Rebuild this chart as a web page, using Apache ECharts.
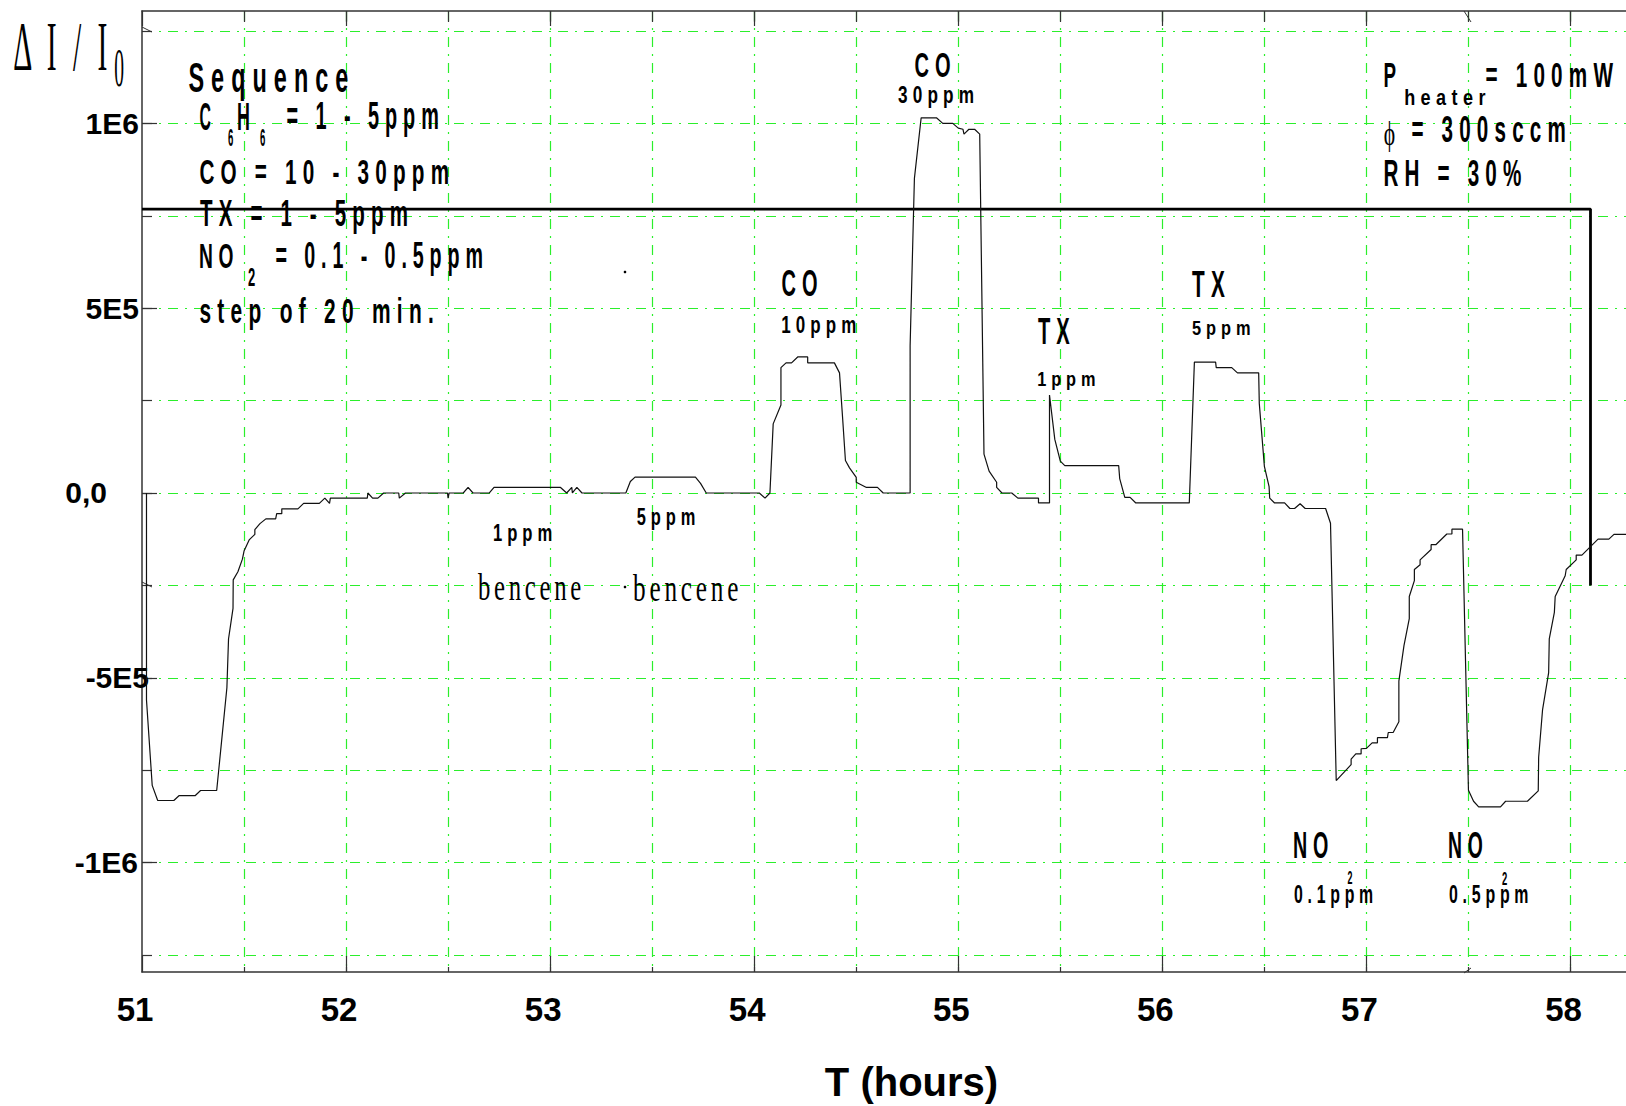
<!DOCTYPE html>
<html><head><meta charset="utf-8">
<script src="https://cdn.jsdelivr.net/npm/echarts@6/dist/echarts.min.js"></script>
<style>
html,body{margin:0;padding:0;background:#fff}
#c{width:1626px;height:1106px}
#c text[style*="NoteSans"]{letter-spacing:0.3em}
#c text[style*="NoteSerif"]{letter-spacing:0.15em}
</style>
</head><body><div id="c"></div>
<script>
// ---------------- data ----------------
const timeHours = [
 51.022,51.022,51.050,51.077,51.156,51.181,51.260,51.287,51.366,51.416,51.424,51.446,51.447,51.470,51.492,51.500,
 51.525,51.553,51.553,51.578,51.607,51.655,51.660,51.685,51.685,51.764,51.792,51.869,51.896,51.919,51.923,52.104,
 52.107,52.130,52.156,52.184,52.258,52.261,52.291,52.497,52.500,52.505,52.574,52.598,52.622,52.702,52.725,53.051,
 53.081,53.106,53.109,53.131,53.156,53.371,53.393,53.416,53.712,53.737,53.765,54.025,54.053,54.077,54.093,54.131,
 54.131,54.156,54.183,54.213,54.262,54.262,54.393,54.418,54.434,54.447,54.467,54.500,54.500,54.550,54.604,54.632,
 54.764,54.764,54.785,54.818,54.893,54.924,54.973,55.000,55.023,55.028,55.052,55.080,55.105,55.126,55.151,55.188,
 55.188,55.214,55.262,55.292,55.393,55.393,55.447,55.447,55.473,55.500,55.522,55.786,55.791,55.816,55.842,55.870,
 56.132,56.157,56.261,56.264,56.340,56.368,56.472,56.475,56.500,56.523,56.526,56.550,56.599,56.625,56.648,56.675,
 56.700,56.800,56.824,56.852,56.925,56.925,56.948,56.974,56.974,57.000,57.028,57.054,57.054,57.103,57.107,57.131,
 57.159,57.159,57.184,57.210,57.210,57.235,57.235,57.263,57.263,57.317,57.317,57.340,57.394,57.419,57.419,57.471,
 57.500,57.525,57.550,57.657,57.682,57.789,57.842,57.844,57.863,57.893,57.896,57.921,57.925,57.974,57.979,58.028,
 58.028,58.056,58.135,58.188,58.213,58.272
];
const deltaI = [
 0,-560000,-791000,-832000,-832000,-819000,-819000,-805000,-805000,-527000,-395000,-312000,-235000,-213000,-179000,-157000,
 -127000,-112000,-99000,-83000,-70000,-70000,-56000,-56000,-43000,-43000,-28000,-28000,-14000,-28000,-14000,-14000,
 0,-14000,-14000,0,0,-14000,0,0,-14000,0,0,15000,0,0,15000,15000,
 0,15000,0,15000,0,0,31000,43000,43000,26000,0,0,-14000,0,187000,238000,
 339000,352000,352000,368000,368000,352000,352000,325000,196000,88000,68000,42000,29000,15000,15000,0,
 0,398000,851000,1015000,1015000,1000000,1000000,987000,984000,971000,984000,984000,971000,105000,59000,29000,
 15000,0,0,-14000,-14000,-27000,-27000,265000,145000,86000,74000,74000,39000,-12000,-12000,-27000,
 -27000,354000,354000,339000,339000,325000,325000,242000,72000,17000,-14000,-27000,-27000,-42000,-42000,-29000,
 -42000,-42000,-82000,-778000,-735000,-720000,-706000,-706000,-692000,-691000,-676000,-676000,-662000,-662000,-648000,-648000,
 -619000,-509000,-413000,-340000,-280000,-237000,-207000,-194000,-181000,-153000,-140000,-140000,-111000,-111000,-98000,-98000,
 -804000,-834000,-849000,-849000,-834000,-834000,-806000,-715000,-587000,-486000,-395000,-323000,-280000,-224000,-207000,-181000,
 -168000,-168000,-125000,-125000,-112000,-112000
];
// heavy black trace drawn across the plot
const markerHours = [51, 58.098, 58.098];
const markerValues = [768000, 768000, -250000];

const xRange = [51, 58.272];
const yRange = [-1296000, 1304000];
const xMajorTicks = [51, 52, 53, 54, 55, 56, 57, 58];
const xHalfTicks = [51.5, 52, 52.5, 53, 53.5, 54, 54.5, 55, 55.5, 56, 56.5, 57, 57.5, 58];
const yTicks = [-1250000, -1000000, -750000, -500000, -250000, 0, 250000, 500000, 750000, 1000000, 1250000];
const yLabelValues = [-1000000, -500000, 0, 500000, 1000000];
const yLabelTexts = ['-1E6', '-5E5', '0,0', '5E5', '1E6'];

// ---------------- fonts ----------------
function fontOK(name) {
  const c = document.createElement('canvas').getContext('2d');
  const s = 'mmmmmmmmmmlli0123456789WQ';
  c.font = '40px monospace'; const a = c.measureText(s).width;
  c.font = '40px "' + name + '", monospace'; const b = c.measureText(s).width;
  c.font = '40px serif'; const a2 = c.measureText(s).width;
  c.font = '40px "' + name + '", serif'; const b2 = c.measureText(s).width;
  return a !== b || a2 !== b2;
}
const HAS_NARROW = fontOK('Liberation Sans Narrow');
const axFam = HAS_NARROW ? 'Liberation Sans Narrow' : 'Liberation Sans';
const xFs = 33;
const yFs = HAS_NARROW ? 32 : 30;
const SANS = '"NoteSans", "Liberation Sans", Arial, sans-serif';
const SERIF = '"NoteSerif", "Liberation Serif", "DejaVu Serif", serif';

// ---------------- text helper (fits ink box horizontally, letter-spaced) ----------------
const mctx = document.createElement('canvas').getContext('2d');
function T(text, x0, x1, yc, size, serif) {
  const fam = serif ? SERIF : SANS;
  const font = (serif ? '' : 'bold ') + size + 'px ' + fam;
  const sp = (serif ? 0.15 : 0.3) * size;
  mctx.font = font;
  const m = mctx.measureText(text);
  const n = Array.from(text).length;
  const inkL = -m.actualBoundingBoxLeft;
  const inkW = m.actualBoundingBoxRight + m.actualBoundingBoxLeft + (n - 1) * sp;
  const s = (x1 - x0) / inkW;
  return { type: 'text', x: x0 - inkL * s, y: yc, scaleX: s, silent: true, z: 100,
    style: { text: text, font: font, fill: '#000', textAlign: 'left', textVerticalAlign: 'middle' } };
}

const notes = [
  T('\u0394 I / I', 14, 108, 46.7, 70, true),
  T('0', 115, 123.3, 68.3, 54, true),
  T('Sequence', 189, 348, 77.5, 43),
  T('C', 200, 211, 116, 39), T('6', 228, 233, 138.5, 23), T('H', 238, 249, 116, 39), T('6', 260, 265, 138.5, 23),
  T('= 1 - 5ppm', 287, 438, 116, 39),
  T('CO = 10 - 30ppm', 200, 448, 171, 36),
  T('TX = 1 - 5ppm', 200, 407, 213.5, 37),
  T('NO', 200, 233, 256, 36), T('2', 248, 255, 276.5, 26), T('= 0.1 - 0.5ppm', 276, 482, 256, 36),
  T('step of 20 min.', 200, 433, 310.5, 35),
  T('P', 1384.5, 1395.5, 74.3, 36), T('heater', 1405, 1486, 97.9, 21.5), T('= 100mW', 1486, 1613, 74.5, 36),
  T('\u03D5', 1384.5, 1395, 134, 33, true), T('= 300sccm', 1412, 1564.6, 129, 37),
  T('RH = 30%', 1384.5, 1521, 172.7, 37),
  T('CO', 915, 950, 65, 36), T('30ppm', 898, 973, 94.7, 24),
  T('CO', 782, 817, 282.5, 37), T('10ppm', 782, 856, 325, 23),
  T('TX', 1038, 1070, 330.5, 37), T('1ppm', 1038, 1095, 379, 21),
  T('TX', 1192, 1225, 284.5, 37), T('5ppm', 1192, 1250, 328, 21),
  T('1ppm', 493.7, 552, 533.3, 23), T('bencene', 478, 581, 588, 37, true),
  T('5ppm', 636.7, 695, 517, 23), T('bencene', 633, 738, 589, 37, true),
  T('NO', 1294, 1328, 844.4, 37), T('2', 1347.6, 1352.3, 877.8, 19), T('0.1ppm', 1294, 1372.4, 894, 25),
  T('NO', 1449, 1482.4, 844.4, 37), T('2', 1502, 1507, 877.8, 19), T('0.5ppm', 1449, 1527.7, 894, 25)
];
const specks = [
  { type: 'line', silent: true, shape: { x1: 142, y1: 27, x2: 152, y2: 32 }, style: { stroke: '#333', lineWidth: 1 } },
  { type: 'line', silent: true, shape: { x1: 1464, y1: 11, x2: 1471, y2: 22 }, style: { stroke: '#333', lineWidth: 1 } },
  { type: 'line', silent: true, shape: { x1: 1464, y1: 973, x2: 1471, y2: 968 }, style: { stroke: '#333', lineWidth: 1 } },
  { type: 'line', silent: true, shape: { x1: 142, y1: 582, x2: 152, y2: 587 }, style: { stroke: '#333', lineWidth: 1 } },
  { type: 'circle', silent: true, shape: { cx: 625, cy: 272, r: 1.3 }, style: { fill: '#000' } },
  { type: 'circle', silent: true, shape: { cx: 625, cy: 587, r: 1.3 }, style: { fill: '#000' } }
];

// ---------------- chart ----------------
const axisLineStyle = { color: '#333', width: 1.5 };
const tickStyle = { color: '#333', width: 1.2 };
const gridLineStyle = { color: '#2bef2b', width: 1.2, type: [10, 7, 2, 7] };

const richY = {};
const yShift = [12, 1, 43, 11, 11];
yLabelTexts.forEach((t, i) => {
  richY['s' + i] = { fontFamily: axFam, fontWeight: 'bold', fontSize: yFs, lineHeight: yFs, color: '#000', padding: [0, yShift[i], 0, 0] };
});
function yFmt(v) {
  let bi = 0;
  yLabelValues.forEach((lv, i) => { if (Math.abs(lv - v) < Math.abs(yLabelValues[bi] - v)) bi = i; });
  return '{s' + bi + '|' + yLabelTexts[bi] + '}';
}

const chart = echarts.init(document.getElementById('c'), null, { renderer: 'svg' });
chart.setOption({
  animation: false,
  backgroundColor: '#fff',
  grid: { left: 142, right: 0, top: 11, bottom: 134, containLabel: false, outerBoundsMode: 'none' },
  xAxis: [
    { type: 'value', min: xRange[0], max: xRange[1], position: 'bottom',
      axisLine: { show: true, onZero: false, lineStyle: axisLineStyle },
      axisTick: { show: true, inside: true, length: 5, customValues: xHalfTicks, lineStyle: tickStyle },
      axisLabel: { show: false }, splitLine: { show: true, lineStyle: gridLineStyle } },
    { type: 'value', min: xRange[0], max: xRange[1], position: 'bottom',
      axisLine: { show: false, onZero: false },
      axisTick: { show: true, inside: true, length: 16, customValues: xMajorTicks, lineStyle: tickStyle },
      axisLabel: { show: true, customValues: xMajorTicks, formatter: v => String(Math.round(v)),
        margin: 37 - xFs / 2, fontFamily: axFam, fontWeight: 'bold', fontSize: xFs, lineHeight: xFs,
        color: '#000', padding: [0, 14, 0, 0] },
      splitLine: { show: false },
      name: 'T (hours)', nameLocation: 'middle', nameGap: 90,
      nameTextStyle: { fontFamily: 'Liberation Sans', fontWeight: 'bold', fontSize: 40, lineHeight: 40, color: '#000', padding: [0, 0, 0, 55] } },
    { type: 'value', min: xRange[0], max: xRange[1], position: 'top',
      axisLine: { show: true, onZero: false, lineStyle: axisLineStyle },
      axisTick: { show: true, inside: true, length: 11, customValues: xHalfTicks, lineStyle: tickStyle },
      axisLabel: { show: false }, splitLine: { show: false } },
    { type: 'value', min: xRange[0], max: xRange[1], position: 'top',
      axisLine: { show: false, onZero: false },
      axisTick: { show: true, inside: true, length: 15, customValues: xMajorTicks, lineStyle: tickStyle },
      axisLabel: { show: false }, splitLine: { show: false } }
  ],
  yAxis: [
    { type: 'value', min: yRange[0], max: yRange[1], position: 'left',
      axisLine: { show: true, onZero: false, lineStyle: axisLineStyle },
      axisTick: { show: true, inside: true, length: 10, customValues: yTicks, lineStyle: tickStyle },
      axisLabel: { show: false }, splitLine: { show: true, lineStyle: gridLineStyle } },
    { type: 'value', min: yRange[0], max: yRange[1], position: 'left',
      axisLine: { show: false, onZero: false },
      axisTick: { show: true, inside: true, length: 15, customValues: yLabelValues, lineStyle: tickStyle },
      axisLabel: { show: true, customValues: yLabelValues, formatter: yFmt, rich: richY, margin: -8,
        fontFamily: axFam, fontWeight: 'bold', fontSize: yFs, color: '#000' },
      splitLine: { show: false } }
  ],
  series: [
    { type: 'line', name: 'response', xAxisIndex: 0, yAxisIndex: 0, z: 5,
      data: timeHours.map((t, i) => [t, deltaI[i]]),
      symbol: 'none', showSymbol: false, lineStyle: { color: '#111', width: 1.2 } },
    { type: 'line', name: 'marker', xAxisIndex: 0, yAxisIndex: 0, z: 4,
      data: markerHours.map((t, i) => [t, markerValues[i]]),
      symbol: 'none', showSymbol: false, lineStyle: { color: '#000', width: 2.8 } }
  ],
  graphic: { elements: notes.concat(specks) }
});
</script>
</body></html>
